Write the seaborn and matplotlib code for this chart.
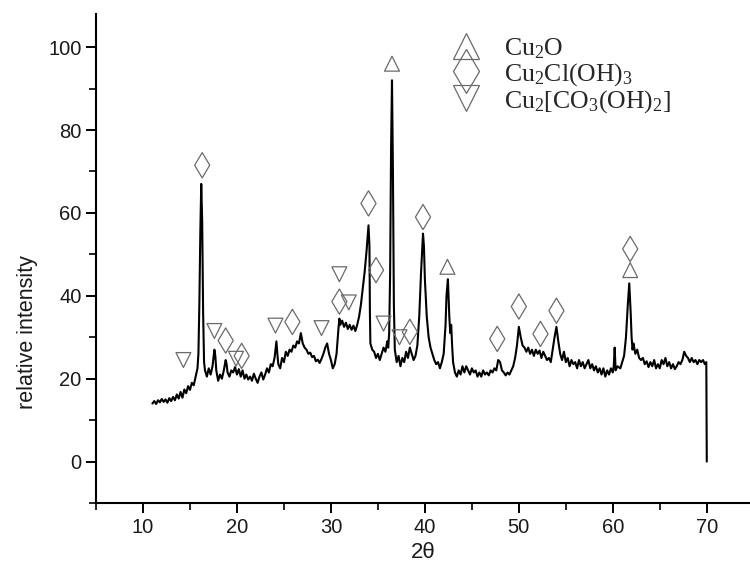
import matplotlib
matplotlib.use("Agg")
import matplotlib.pyplot as plt
from matplotlib.lines import Line2D
from matplotlib.ticker import MultipleLocator
import seaborn as sns
import pandas as pd

# XRD scan: 2-theta (degrees) and relative intensity
two_theta = [
    11.0, 11.2, 11.4, 11.6, 11.8, 12.0, 12.2, 12.4, 12.6, 12.8, 13.0, 13.2, 13.4, 13.6, 13.8,
    14.0, 14.2, 14.4, 14.6, 14.8, 15.0, 15.2, 15.4, 15.6, 15.8, 15.9, 16.0, 16.1, 16.2, 16.3,
    16.4, 16.5, 16.6, 16.8, 17.0, 17.2, 17.4, 17.6, 17.7, 17.8, 18.0, 18.2, 18.4, 18.6, 18.8,
    18.9, 19.0, 19.2, 19.4, 19.6, 19.8, 20.0, 20.2, 20.4, 20.6, 20.8, 21.0, 21.2, 21.4, 21.6,
    21.8, 22.0, 22.2, 22.4, 22.6, 22.8, 23.0, 23.2, 23.4, 23.6, 23.8, 24.0, 24.2, 24.3, 24.4,
    24.6, 24.8, 25.0, 25.2, 25.4, 25.6, 25.8, 26.0, 26.2, 26.4, 26.6, 26.8, 27.0, 27.2, 27.4,
    27.6, 27.8, 28.0, 28.2, 28.4, 28.6, 28.8, 29.0, 29.2, 29.4, 29.6, 29.8, 30.0, 30.2, 30.4,
    30.6, 30.8, 30.9, 31.0, 31.2, 31.4, 31.6, 31.8, 32.0, 32.2, 32.4, 32.6, 32.8, 33.0, 33.2,
    33.4, 33.6, 33.8, 34.0, 34.1, 34.15, 34.2, 34.4, 34.6, 34.8, 35.0, 35.2, 35.4, 35.6, 35.8,
    36.0, 36.1, 36.2, 36.3, 36.4, 36.5, 36.6, 36.7, 36.8, 37.0, 37.2, 37.4, 37.6, 37.8, 38.0,
    38.2, 38.4, 38.6, 38.8, 39.0, 39.2, 39.4, 39.6, 39.8, 39.9, 40.0, 40.2, 40.4, 40.6, 40.8,
    41.0, 41.2, 41.4, 41.6, 41.8, 42.0, 42.2, 42.3, 42.45, 42.6, 42.7, 42.8, 42.9, 43.0, 43.2,
    43.4, 43.6, 43.8, 44.0, 44.2, 44.4, 44.6, 44.8, 45.0, 45.2, 45.4, 45.6, 45.8, 46.0, 46.2,
    46.4, 46.6, 46.8, 47.0, 47.2, 47.4, 47.6, 47.8, 48.0, 48.2, 48.4, 48.6, 48.8, 49.0, 49.2,
    49.4, 49.6, 49.8, 50.0, 50.2, 50.4, 50.6, 50.8, 51.0, 51.2, 51.4, 51.6, 51.8, 52.0, 52.2,
    52.4, 52.6, 52.8, 53.0, 53.2, 53.4, 53.6, 53.8, 54.0, 54.2, 54.4, 54.6, 54.8, 55.0, 55.2,
    55.4, 55.6, 55.8, 56.0, 56.2, 56.4, 56.6, 56.8, 57.0, 57.2, 57.4, 57.6, 57.8, 58.0, 58.2,
    58.4, 58.6, 58.8, 59.0, 59.2, 59.4, 59.6, 59.8, 60.0, 60.1, 60.2, 60.3, 60.5, 60.8, 61.0,
    61.2, 61.4, 61.6, 61.75, 61.9, 62.0, 62.1, 62.2, 62.4, 62.6, 62.8, 63.0, 63.2, 63.4, 63.6,
    63.8, 64.0, 64.2, 64.4, 64.6, 64.8, 65.0, 65.2, 65.4, 65.6, 65.8, 66.0, 66.2, 66.4, 66.6,
    66.8, 67.0, 67.2, 67.4, 67.6, 67.8, 68.0, 68.2, 68.4, 68.6, 68.8, 69.0, 69.2, 69.4, 69.6,
    69.8, 69.95, 70.0,
]
intensity = [
    14.0, 14.6, 13.9, 14.8, 14.3, 15.1, 14.4, 15.0, 14.2, 15.3, 14.6, 15.6, 14.8, 16.2, 15.2,
    16.8, 15.4, 17.4, 16.5, 18.2, 17.3, 19.0, 18.4, 20.5, 22.5, 26.0, 38.0, 55.0, 67.0, 58.0,
    36.0, 24.0, 22.0, 20.5, 22.5, 21.0, 23.0, 27.0, 25.5, 22.0, 19.5, 21.0, 20.0, 22.0, 24.5,
    23.5, 21.5, 20.5, 22.0, 21.5, 22.8, 21.0, 22.3, 20.5, 22.0, 20.0, 21.0, 19.8, 20.5, 19.5,
    21.2, 20.0, 19.0, 20.5, 21.5, 19.8, 21.0, 22.5, 21.5, 23.5, 23.0, 25.0, 29.0, 26.0, 23.5,
    22.5, 25.0, 24.0, 26.5, 25.5, 27.0, 26.5, 28.0, 27.5, 29.0, 28.5, 31.0, 28.5, 27.5, 27.0,
    26.0, 26.3, 25.2, 25.5, 24.2, 24.6, 23.8, 24.8, 26.0, 27.5, 28.5, 26.0, 24.5, 22.5, 23.5,
    26.0, 32.0, 34.5, 33.0, 34.0, 32.5, 33.5, 32.0, 33.0, 31.8, 32.8, 31.5, 33.0, 35.0, 38.0,
    42.0, 46.0, 51.0, 57.0, 52.0, 36.0, 28.5, 27.0, 26.5, 25.0, 26.0, 24.5, 26.0, 27.5, 26.5,
    29.0, 27.5, 31.0, 45.0, 75.0, 92.0, 70.0, 38.0, 27.0, 24.0, 25.5, 23.0, 25.0, 24.0, 26.5,
    25.0, 27.5, 26.0, 24.5, 25.5, 28.0, 35.0, 46.0, 55.0, 52.0, 44.0, 35.0, 30.0, 27.5, 26.0,
    24.5, 23.5, 24.0, 22.5, 24.0, 26.0, 33.0, 40.0, 44.0, 35.0, 31.0, 33.0, 28.0, 24.0, 21.5,
    20.5, 22.0, 21.0, 23.0, 21.5, 23.0, 22.0, 21.0, 22.5, 21.5, 22.0, 20.5, 21.5, 20.5, 22.0,
    21.0, 21.5, 20.8, 22.0, 21.5, 22.5, 22.0, 24.5, 24.0, 22.0, 21.5, 20.8, 21.5, 21.0, 22.0,
    23.0, 25.0, 28.0, 32.5, 30.0, 28.0, 27.5, 26.5, 27.5, 26.0, 27.0, 25.5, 27.0, 26.0, 26.8,
    25.0, 26.5, 25.5, 24.5, 25.0, 24.0, 27.0, 30.0, 32.5, 29.0, 26.0, 24.5, 26.5, 24.0, 25.0,
    23.0, 24.5, 23.5, 24.0, 22.5, 24.5, 23.0, 24.0, 22.5, 23.5, 24.5, 22.5, 23.5, 22.0, 23.0,
    21.5, 22.5, 21.0, 22.5, 20.5, 22.0, 21.0, 22.5, 21.5, 23.0, 27.5, 22.0, 23.0, 22.5, 24.0,
    25.5, 30.0, 38.0, 43.0, 36.0, 30.0, 27.0, 28.5, 26.0, 27.0, 25.0, 24.5, 25.0, 23.5, 24.2,
    22.8, 24.0, 23.0, 24.5, 22.5, 23.5, 22.5, 24.5, 23.5, 25.0, 23.0, 24.0, 22.5, 23.5, 22.3,
    23.0, 24.0, 23.5, 24.5, 26.5, 25.5, 25.0, 24.0, 25.0, 24.0, 24.5, 23.5, 24.5, 24.0, 24.5,
    23.5, 24.0, 0.0,
]

# Phase identification marks (2-theta, height of the symbol)
cu2o_x = [36.5, 42.4, 61.85]
cu2o_y = [96.0, 47.0, 46.2]
atacamite_x = [16.3, 18.8, 20.5, 25.9, 30.9, 34.0, 34.8, 38.4, 39.8, 47.7, 50.0, 52.3, 54.0, 61.85]
atacamite_y = [71.5, 29.2, 25.5, 33.7, 38.6, 62.3, 46.2, 31.3, 59.0, 29.6, 37.4, 30.8, 36.4, 51.3]
malachite_x = [14.3, 17.6, 19.9, 24.1, 29.0, 30.9, 31.9, 35.6, 37.3]
malachite_y = [24.5, 31.5, 24.8, 32.8, 32.2, 45.2, 38.4, 33.3, 30.0]

legend_labels = [r"Cu$_\mathregular{2}$O",
                 r"Cu$_\mathregular{2}$Cl(OH)$_\mathregular{3}$",
                 r"Cu$_\mathregular{2}$[CO$_\mathregular{3}$(OH)$_\mathregular{2}$]"]

sns.set_theme(style="ticks")
plt.rcParams["font.family"] = ["Liberation Sans", "DejaVu Sans"]
plt.rcParams["mathtext.fontset"] = "custom"
plt.rcParams["mathtext.rm"] = "Liberation Serif"
plt.rcParams["mathtext.it"] = "Liberation Serif"

fig = plt.figure(figsize=(7.5, 5.7), dpi=100)
ax = fig.add_axes([0.128, 0.1175, 0.872, 0.858])

scan = pd.DataFrame({"two_theta": two_theta, "intensity": intensity})
sns.lineplot(data=scan, x="two_theta", y="intensity", ax=ax, sort=False,
             estimator=None, color="black", linewidth=1.5)

mark_color = "#6a6a6a"
mark_style = dict(facecolors="none", edgecolor=mark_color, linewidth=0.9, ax=ax,
                  legend=False, zorder=3)
sns.scatterplot(x=cu2o_x, y=cu2o_y, marker="^", s=115, **mark_style)
sns.scatterplot(x=atacamite_x, y=atacamite_y, marker="d", s=165, **mark_style)
sns.scatterplot(x=malachite_x, y=malachite_y, marker="v", s=115, **mark_style)

ax.set_xlim(5, 74.6)
ax.set_ylim(-10, 108)
ax.xaxis.set_major_locator(MultipleLocator(10))
ax.xaxis.set_minor_locator(MultipleLocator(5))
ax.yaxis.set_major_locator(MultipleLocator(20))
ax.yaxis.set_minor_locator(MultipleLocator(10))
ax.tick_params(which="major", direction="out", length=7, width=1.4,
               labelsize=14.5, color="black", labelcolor="#1a1a1a")
ax.tick_params(which="minor", direction="out", length=5, width=1.2, color="black")
for side in ("top", "right"):
    ax.spines[side].set_visible(False)
for side in ("left", "bottom"):
    ax.spines[side].set_linewidth(1.5)
    ax.spines[side].set_color("black")

ax.set_xlabel("2θ", fontsize=16, labelpad=4, color="#1a1a1a")
ax.set_ylabel("relative intensity", fontsize=15.5, color="#1a1a1a")
ax.yaxis.set_label_coords(-0.088, 0.35)

handles = [
    Line2D([], [], linestyle="none", marker="^", markersize=19,
           markerfacecolor="none", markeredgecolor=mark_color, markeredgewidth=0.9),
    Line2D([], [], linestyle="none", marker="d", markersize=22,
           markerfacecolor="none", markeredgecolor=mark_color, markeredgewidth=0.9),
    Line2D([], [], linestyle="none", marker="v", markersize=19,
           markerfacecolor="none", markeredgecolor=mark_color, markeredgewidth=0.9),
]
ax.legend(handles, legend_labels, loc="upper left", bbox_to_anchor=(0.51, 0.975),
          frameon=False, prop={"family": "Liberation Serif", "size": 18.5},
          handletextpad=0.5, labelspacing=0.0, borderaxespad=0)

fig.savefig("out.png", dpi=100)
